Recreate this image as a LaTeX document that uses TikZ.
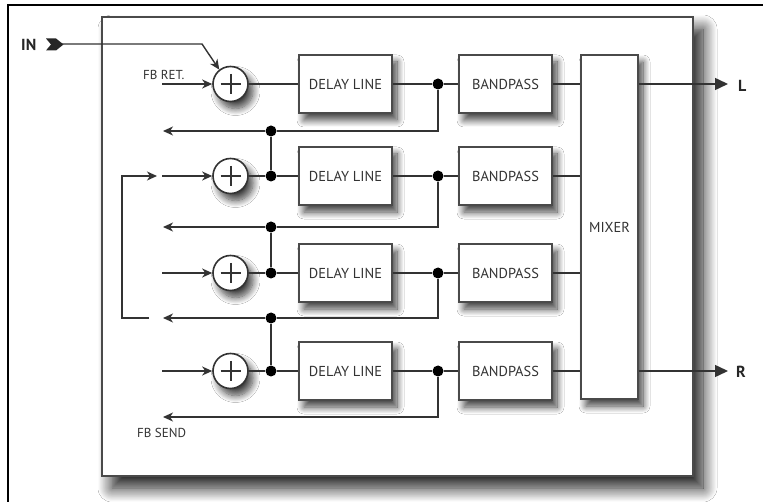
\documentclass[tikz,border=0pt]{standalone}
\usepackage{fontspec}
\setmainfont{PT Sans}
\usetikzlibrary{arrows.meta,shadows.blur,calc}
\definecolor{ln}{HTML}{333333}
\definecolor{bx}{HTML}{4A4A4A}
\begin{document}
\begin{tikzpicture}[x=1pt,y=-1pt,
  conn/.style={draw=ln, line width=1.4pt},
  arr/.style={conn,-{Stealth[length=10pt,width=9pt,inset=3pt]}},
  outarr/.style={conn,-{Triangle[length=13pt,width=12pt]}},
  shad/.style={blur shadow={shadow xshift=5pt, shadow yshift=-7pt, shadow blur radius=7pt, shadow blur steps=12, shadow opacity=75}},
  block/.style={draw=bx, line width=1.6pt, fill=white, minimum width=93pt, minimum height=58pt, inner sep=0pt,
    font=\fontsize{14.4}{16}\selectfont, text=ln, shad},
  adder/.style={circle, draw=ln, line width=1.6pt, fill=white, minimum size=35pt, inner sep=0pt, shad,
    path picture={\draw[ln, line width=2pt] (path picture bounding box.center) ++(-10,0) -- ++(20,0)
      (path picture bounding box.center) ++(0,-10) -- ++(0,20);}},
  jdot/.style={circle, fill=black, minimum size=11pt, inner sep=0pt},
  lbl/.style={font=\fontsize{13}{15}\selectfont, text=ln, inner sep=0pt},
  biglbl/.style={font=\bfseries\fontsize{16}{18}\selectfont, text=black!85, inner sep=0pt}
]
\useasboundingbox (0,0) rectangle (763,502);
\fill[white] (0,0) rectangle (763,502);
% outer frame
\draw[black, line width=2.5pt] (8,502) -- (8,5) -- (763,5);
% panel
\node[draw=bx, line width=1.6pt, fill=white, minimum width=591pt, minimum height=459pt, inner sep=0pt,
  blur shadow={shadow xshift=10pt, shadow yshift=-12pt, shadow blur radius=14pt, shadow blur steps=16, shadow opacity=90}] (panel) at (397.5,246.5) {};

% mixer
\node[block, minimum width=57pt, minimum height=344pt] (mix) at (609.5,227) {MIXER};

% rows
\foreach \i/\y/\f in {1/84/131, 2/176/227, 3/273/318, 4/371/417}{
  \node[adder] (a\i) at (230.5,\y) {};
  \node[block] (dl\i) at (345.5,\y) {DELAY LINE};
  \node[block] (bp\i) at (505.5,\y) {BANDPASS};
  \node[jdot] (o\i) at (438,\y) {};
  \coordinate (s\i) at (162,\y);
  \coordinate (fbR\i) at (438,\f);
  \coordinate (fbL\i) at (163,\f);
  \draw[arr] (s\i) -- (a\i.west);
  \draw[conn] (dl\i) -- (o\i) -- (bp\i);
  \draw[conn] (bp\i.east) -- (bp\i.east -| mix.west);
}
% junction dots between adders and delay lines
\foreach \i/\f/\j/\y in {1/131/2/176, 2/227/3/273, 3/318/4/371}{
  \node[jdot] (e\i) at (271,\f) {};
  \node[jdot] (d\j) at (271,\y) {};
  \draw[conn] (e\i) -- (d\j);
  \draw[conn] (a\j) -- (d\j) -- (dl\j);
  \draw[conn] (o\i) -- (fbR\i) -- (e\i);
  \draw[arr] (e\i) -- (fbL\i);
}
\draw[conn] (a1) -- (dl1);
\draw[arr] (o4) -- (fbR4) -- (fbL4);

% loop from feedback 3 back to row 2
\coordinate (lpA) at (149,318);
\coordinate (lpB) at (122,318);
\coordinate (lpC) at (122,176);
\coordinate (lpD) at (157,176);
\draw[arr] (lpA) -- (lpB) -- (lpC) -- (lpD);

% input
\fill[black!85] (46,38.5) -- (56,38.5) -- (63.5,44.5) -- (56,50.5) -- (46,50.5) -- (51,44.5) -- cycle;
\coordinate (inTip) at (62,44);
\coordinate (inBend) at (202,44);
\draw[arr] (inTip) -- (inBend) -- (a1.128);
\node[biglbl, anchor=west] (inlbl) at (21,45) {IN};

% outputs
\coordinate (Lout) at (728,84);
\coordinate (Rout) at (728,371);
\draw[outarr] (mix.east |- bp1.east) -- (Lout);
\draw[outarr] (mix.east |- bp4.east) -- (Rout);
\node[biglbl, anchor=west] (Llbl) at (738,86) {L};
\node[biglbl, anchor=west] (Rlbl) at (736,372) {R};

% labels
\node[lbl, anchor=south west] (fbret) at (143,80) {FB RET.};
\node[lbl, anchor=north west] (fbsend) at (137,428) {FB SEND};
\end{tikzpicture}
\end{document}
